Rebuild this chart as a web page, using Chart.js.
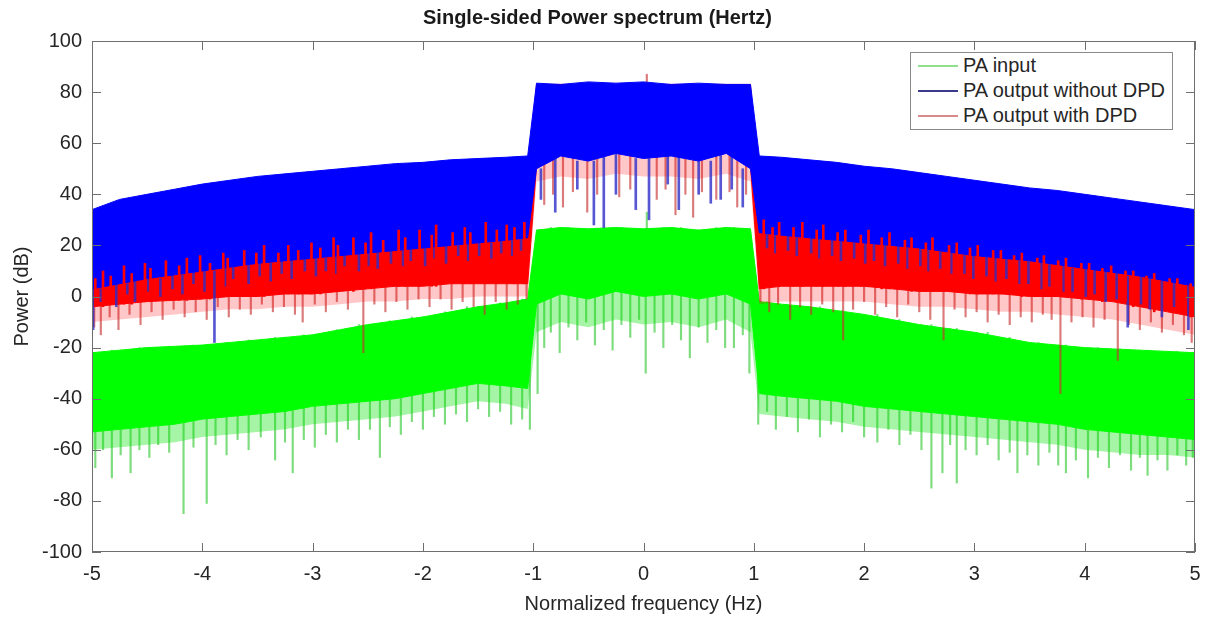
<!DOCTYPE html>
<html>
<head>
<meta charset="utf-8">
<script src="https://cdn.jsdelivr.net/npm/chart.js@4.4.1/dist/chart.umd.min.js"></script>
<style>
  html, body { margin: 0; padding: 0; background: #fff; }
  #wrap { position: relative; width: 1207px; height: 622px; }
  #legendBox {
    position: absolute; left: 910px; top: 52px; width: 261px; height: 76px;
    border: 1px solid #8a8a8a; background: #fff;
    font: 20px "Liberation Sans", Arial, sans-serif; color: #262626;
  }
  .row { position: relative; height: 25px; line-height: 25px; padding-left: 52px; white-space: nowrap; }
  .row span.swatch { position: absolute; left: 7px; top: 12px; width: 40px; height: 2px; }
</style>
</head>
<body>
<div id="wrap">
  <canvas id="spectrum"></canvas>
  <div id="legendBox"></div>
</div>
<script>
// normalized frequency grid used by all envelopes
const freq = [-5, -4.75, -4.5, -4.25, -4, -3.75, -3.5, -3.25, -3, -2.75, -2.5, -2.25, -2, -1.75, -1.5, -1.25, -1.05,
  -0.97, -0.75, -0.5, -0.25, 0, 0.25, 0.5, 0.75, 0.97,
  1.05, 1.25, 1.5, 1.75, 2, 2.25, 2.5, 2.75, 3, 3.25, 3.5, 3.75, 4, 4.25, 4.5, 4.75, 5];

// PA output without DPD (blue): upper / lower edge of the dense trace
const noDpdTop = [34, 38, 40, 42, 44, 45.5, 47, 48, 49, 50, 51, 52, 52.5, 53.5, 54, 54.5, 55,
  83.5, 83, 84, 83.5, 84, 83, 83.5, 83, 83,
  55, 54.5, 53.5, 52.5, 51, 50, 48.5, 47, 45.5, 44, 42.5, 41.5, 40, 38.5, 37, 35.5, 34];
const noDpdBottom = [3, 5, 7, 8.5, 10, 11.5, 13, 14, 15, 16, 17, 18, 19, 20, 21, 22, 23,
  50, 55, 53, 56, 54, 55, 53, 56, 50,
  25, 24, 23, 22, 21, 20, 19, 17.5, 16, 15, 14, 12.5, 11, 9.5, 8, 6, 4];

// PA output with DPD (red): dense part, then the thinner fuzzy part below it
const dpdTop = [9, 11, 12.5, 13.5, 15, 16, 17, 18, 19, 20, 21, 22, 23, 24, 25, 26, 27,
  83, 83, 83, 83, 83, 83, 83, 83, 83,
  28, 27, 26, 25, 24, 23, 22, 21, 20, 18.5, 17, 15.5, 14, 12, 10.5, 9, 7];
const dpdBottom = [-4, -3, -2, -1.5, -1, 0, 0, 1, 1, 2, 3, 4, 4, 5, 5, 5, 5,
  51, 56, 54, 57, 55, 56, 54, 57, 51,
  3, 4, 4, 4, 4, 3, 2, 2, 1, 1, 0, 0, -1, -2, -4, -6, -8];
const dpdFuzz = [-10, -9, -8, -7, -6, -5, -5, -4, -4, -3, -2, -2, -1, -1, 0, 0, 0,
  45, 47, 46, 48, 47, 47, 46, 48, 45,
  -3, -2, -2, -2, -2, -3, -4, -4, -5, -6, -6, -7, -8, -9, -11, -13, -15];

// PA input (green)
const inputTop = [-22, -21, -20, -19.5, -19, -18, -17, -16, -15, -13, -11, -9.5, -8, -6, -4, -2.5, -1,
  26, 27, 26.5, 27, 26.5, 27, 26, 27, 26.5,
  -2, -3, -4, -5.5, -7, -9, -11, -12.5, -14, -16, -18, -19, -20, -20.5, -21, -21.5, -22];
const inputBottom = [-53, -52, -51, -50, -48, -47, -46, -45, -43, -42, -41, -40, -38, -36, -34, -35, -36,
  -3, 1, -1, 2, 0, 1, -1, 1, -3,
  -38, -39, -40, -41, -43, -44, -45, -46, -47, -48, -49, -50, -52, -53, -54, -55, -56];
const inputFuzz = [-60, -59, -58, -57, -55, -54, -53, -52, -50, -49, -48, -47, -45, -43, -41, -42, -44,
  -14, -10, -12, -9, -11, -10, -12, -9, -14,
  -46, -47, -48, -49, -51, -52, -53, -54, -55, -56, -57, -58, -60, -61, -62, -62, -63];

// single spikes sticking out of the dense traces: [frequency, dB]
const inputSpikes = [[-4.97, -67], [-4.9, -60], [-4.82, -71], [-4.74, -62], [-4.65, -69], [-4.57, -60], [-4.48, -63],
  [-4.4, -58], [-4.3, -61], [-4.17, -85], [-4.08, -59], [-3.96, -81], [-3.88, -58], [-3.78, -62], [-3.68, -56],
  [-3.58, -60], [-3.47, -55], [-3.34, -64], [-3.25, -57], [-3.18, -69], [-3.08, -56], [-2.98, -59], [-2.88, -54],
  [-2.78, -57], [-2.68, -52], [-2.58, -56], [-2.48, -52], [-2.39, -63], [-2.3, -51], [-2.2, -54], [-2.1, -49],
  [-2.0, -52], [-1.9, -47], [-1.8, -50], [-1.7, -46], [-1.6, -49], [-1.5, -44], [-1.4, -47], [-1.3, -45],
  [-1.2, -50], [-1.1, -48], [-1.03, -52],
  [-0.96, -38], [-0.9, -20], [-0.84, -14], [-0.76, -22], [-0.68, -12], [-0.6, -17], [-0.52, -10], [-0.44, -19],
  [-0.36, -13], [-0.28, -21], [-0.2, -11], [-0.12, -16], [-0.04, -9], [0.02, -30], [0.03, 33], [0.1, -14], [0.18, -20],
  [0.26, -11], [0.34, -17], [0.42, -24], [0.5, -12], [0.58, -18], [0.66, -13], [0.74, -20], [0.82, -20],
  [0.9, -15], [0.96, -30],
  [1.04, -50], [1.12, -45], [1.2, -52], [1.3, -47], [1.4, -53], [1.5, -48], [1.6, -55], [1.7, -50], [1.8, -53],
  [1.9, -49], [2.0, -55], [2.12, -57], [2.22, -52], [2.32, -58], [2.42, -54], [2.52, -60], [2.61, -75],
  [2.71, -69], [2.78, -58], [2.84, -73], [2.92, -60], [3.02, -62], [3.12, -58], [3.22, -64], [3.32, -61],
  [3.39, -69], [3.48, -62], [3.58, -66], [3.68, -61], [3.76, -66], [3.83, -69], [3.92, -64], [4.03, -71],
  [4.12, -63], [4.22, -67], [4.32, -62], [4.42, -68], [4.5, -63], [4.57, -70], [4.66, -64], [4.75, -68],
  [4.84, -62], [4.92, -66], [4.98, -63]];

const dpdSpikes = [[-4.98, -12], [-4.92, -15], [-4.84, -8], [-4.76, -13], [-4.66, -7], [-4.56, -11], [-4.46, -6],
  [-4.36, -9], [-4.26, -5], [-4.16, -8], [-4.06, -6], [-3.96, -9], [-3.86, -4], [-3.76, -8], [-3.66, -5],
  [-3.56, -7], [-3.46, -3], [-3.36, -6], [-3.26, -4], [-3.16, -7], [-3.09, -10], [-2.98, -3], [-2.88, -6],
  [-2.78, -2], [-2.68, -5], [-2.54, -22], [-2.44, -3], [-2.34, -6], [-2.24, -2], [-2.14, -5], [-2.04, -1],
  [-1.94, -4], [-1.84, -1], [-1.74, -5], [-1.64, -2], [-1.54, -4], [-1.44, -7], [-1.34, -2], [-1.24, -5],
  [-1.14, -3], [-1.06, -1],
  [-0.9, 36], [-0.82, 40], [-0.73, 35], [-0.64, 41], [-0.51, 33], [-0.42, 40], [-0.22, 39], [-0.12, 42],
  [0.03, 87], [0.12, 38], [0.2, 42], [0.29, 32], [0.38, 40], [0.45, 31], [0.53, 41], [0.66, 38], [0.78, 41],
  [0.85, 35], [0.93, 40],
  [1.06, -2], [1.14, -6], [1.22, -3], [1.33, -9], [1.42, -4], [1.52, -7], [1.62, -3], [1.72, -6], [1.81, -17],
  [1.9, -5], [2.0, -2], [2.1, -7], [2.2, -4], [2.3, -8], [2.4, -3], [2.5, -6], [2.6, -9], [2.72, -17],
  [2.82, -5], [2.92, -8], [3.02, -6], [3.12, -10], [3.22, -7], [3.32, -11], [3.42, -8], [3.52, -10],
  [3.62, -7], [3.7, -9], [3.78, -38], [3.88, -10], [3.98, -8], [4.08, -12], [4.18, -9], [4.3, -25],
  [4.4, -11], [4.5, -13], [4.6, -10], [4.7, -14], [4.8, -11], [4.9, -15], [4.97, -18]];

// red peaks that poke up into the blue trace
const dpdPeaks = [[-4.97, 7], [-4.9, 10], [-4.83, 8], [-4.71, 12], [-4.64, 9], [-4.52, 13], [-4.47, 11], [-4.33, 14],
  [-4.21, 12], [-4.14, 15], [-4.02, 16], [-3.93, 13], [-3.81, 17], [-3.77, 15], [-3.62, 18], [-3.51, 17],
  [-3.44, 20], [-3.31, 17], [-3.22, 20], [-3.13, 18], [-3.01, 21], [-2.93, 19], [-2.81, 23], [-2.77, 20],
  [-2.63, 23], [-2.52, 21], [-2.47, 25], [-2.36, 22], [-2.22, 26], [-2.16, 23], [-2.03, 26], [-1.92, 24],
  [-1.88, 28], [-1.73, 25], [-1.62, 27], [-1.57, 25], [-1.43, 29], [-1.33, 26], [-1.24, 28], [-1.17, 27],
  [-1.08, 29],
  [1.09, 30], [1.17, 27], [1.23, 29], [1.36, 27], [1.44, 29], [1.57, 26], [1.63, 28], [1.76, 25], [1.83, 26],
  [1.97, 24], [2.04, 26], [2.16, 23], [2.23, 25], [2.37, 22], [2.43, 23], [2.56, 21], [2.62, 23], [2.77, 20],
  [2.84, 21], [2.96, 19], [3.03, 20], [3.17, 18], [3.24, 18], [3.36, 16], [3.43, 17], [3.57, 15], [3.63, 16],
  [3.76, 14], [3.83, 15], [3.97, 13], [4.04, 13], [4.16, 11], [4.24, 12], [4.37, 10], [4.44, 10], [4.56, 8],
  [4.63, 9], [4.77, 7], [4.84, 7], [4.96, 5]];

const noDpdSpikes = [[-4.99, -13], [-4.92, -2], [-4.78, -4], [-4.68, 1], [-4.61, -2], [-4.49, 2], [-4.38, 0],
  [-4.27, 3], [-4.18, 1], [-4.08, 5], [-3.98, 2], [-3.89, -18], [-3.79, 4], [-3.72, 7], [-3.58, 5], [-3.48, 8],
  [-3.38, 6], [-3.28, 9], [-3.19, 7], [-3.07, 10], [-2.97, 8], [-2.88, 10], [-2.79, 9], [-2.71, 12], [-2.58, 10],
  [-2.49, 12], [-2.41, 11], [-2.29, 13], [-2.18, 12], [-2.11, 14], [-1.98, 12], [-1.9, 15], [-1.79, 13],
  [-1.68, 16], [-1.59, 14], [-1.49, 16], [-1.38, 15], [-1.29, 17], [-1.19, 16], [-1.11, 18],
  [-0.93, 38], [-0.8, 33], [-0.6, 42], [-0.45, 28], [-0.36, 27], [-0.25, 40], [-0.07, 34], [0.05, 30],
  [0.22, 44], [0.32, 34], [0.5, 40], [0.61, 36.5], [0.7, 38], [0.8, 42], [0.9, 35],
  [1.12, 19], [1.19, 17], [1.31, 18], [1.39, 16], [1.52, 17], [1.59, 15], [1.71, 16], [1.79, 14], [1.91, 15],
  [2.01, 13], [2.09, 14], [2.19, 12], [2.31, 13], [2.39, 11], [2.51, 12], [2.58, 10], [2.69, 11], [2.79, 9],
  [2.91, 9], [2.99, 7], [3.11, 8], [3.19, 6], [3.29, 7], [3.41, 5], [3.49, 5], [3.61, 3], [3.68, 4], [3.81, 2],
  [3.89, 2], [4.01, 0], [4.09, 1], [4.19, -2], [4.29, -1], [4.39, -12], [4.51, -3], [4.59, -5], [4.7, -8],
  [4.81, -4], [4.94, -13]];

const seriesNames = ["PA input", "PA output without DPD", "PA output with DPD"];
const seriesColors = ["#00ff00", "#0000ff", "#ff0000"];
const fuzzColors = ["rgba(0,225,0,0.35)", "", "rgba(255,0,0,0.22)"];
const spikeColors = ["rgba(70,205,70,0.7)", "rgba(45,45,200,0.8)", "rgba(200,50,50,0.65)"];
const legendColors = ["#8ee08e", "#3a3a8c", "#d88a8a"];

const xTicks = { min: -5, max: 5, step: 1 };
const yTicks = { min: -100, max: 100, step: 20 };

const FONT = '"Liberation Sans", Arial, sans-serif';

function pts(arr) {
  return freq.map((f, i) => ({ x: f, y: arr[i] }));
}

// spike drawn from the trace edge (nearest grid point) out to its value
function spikeBars(list, anchor) {
  return list.map(([f, v]) => {
    let k = 0;
    freq.forEach((g, i) => { if (Math.abs(g - f) < Math.abs(freq[k] - f)) k = i; });
    return { x: f, y: [Math.min(v, anchor[k]), Math.max(v, anchor[k])] };
  });
}

function band(label, top, bottom, color, fillColor, width, order) {
  return [
    { type: "line", label: label, data: pts(top), borderColor: color, backgroundColor: fillColor,
      borderWidth: width, pointRadius: 0, tension: 0, fill: "+1", order: order },
    { type: "line", label: label + " low", data: pts(bottom), borderColor: color,
      borderWidth: width, pointRadius: 0, tension: 0, fill: false, order: order }
  ];
}

function spikes(list, anchor, color, thick, order) {
  return { type: "bar", data: spikeBars(list, anchor), backgroundColor: color, borderWidth: 0,
    barThickness: thick, grouped: false, order: order };
}

// box around the plot with inward ticks, like matlab
const boxFrame = {
  id: "boxFrame",
  afterDraw(chart) {
    const { ctx, chartArea: a, scales } = chart;
    ctx.save();
    ctx.strokeStyle = "#6f6f6f";
    ctx.lineWidth = 1;
    ctx.strokeRect(Math.round(a.left) + 0.5, Math.round(a.top) + 0.5, Math.round(a.width) - 1, Math.round(a.height) - 1);
    ctx.beginPath();
    scales.x.ticks.forEach(t => {
      const px = Math.round(scales.x.getPixelForValue(t.value)) + 0.5;
      ctx.moveTo(px, a.bottom); ctx.lineTo(px, a.bottom - 9);
      ctx.moveTo(px, a.top); ctx.lineTo(px, a.top + 9);
    });
    scales.y.ticks.forEach(t => {
      const py = Math.round(scales.y.getPixelForValue(t.value)) + 0.5;
      ctx.moveTo(a.left, py); ctx.lineTo(a.left + 9, py);
      ctx.moveTo(a.right, py); ctx.lineTo(a.right - 9, py);
    });
    ctx.stroke();
    ctx.restore();
  }
};

let chart = new Chart(document.getElementById("spectrum"), {
  type: "line",
  data: {
    datasets: [
      spikes(dpdPeaks, dpdBottom, seriesColors[2], 2, 0.5),
      ...band(seriesNames[1], noDpdTop, noDpdBottom, seriesColors[1], seriesColors[1], 1, 1),
      spikes(noDpdSpikes, noDpdBottom, spikeColors[1], 2, 1.5),
      ...band(seriesNames[2], dpdTop, dpdBottom, seriesColors[2], seriesColors[2], 1, 2),
      ...band("dpd fuzz", dpdBottom, dpdFuzz, "rgba(0,0,0,0)", fuzzColors[2], 0, 2.2),
      spikes(dpdSpikes, dpdTop, spikeColors[2], 1.5, 2.5),
      ...band(seriesNames[0], inputTop, inputBottom, seriesColors[0], seriesColors[0], 1, 3),
      ...band("input fuzz", inputBottom, inputFuzz, "rgba(0,0,0,0)", fuzzColors[0], 0, 3.2),
      spikes(inputSpikes, inputTop, spikeColors[0], 1.5, 3.5)
    ]
  },
  options: {
    responsive: true,
    maintainAspectRatio: false,
    animation: false,
    layout: { padding: { left: 0, right: 12, top: 0, bottom: 0 } },
    plugins: {
      legend: { display: false },
      tooltip: { enabled: false },
      title: {
        display: true,
        text: "Single-sided Power spectrum (Hertz)",
        color: "#1a1a1a",
        font: { family: FONT, size: 20, weight: "bold" },
        padding: { top: 6, bottom: 11 }
      }
    },
    scales: {
      x: {
        type: "linear", min: xTicks.min, max: xTicks.max, offset: false,
        grid: { display: false, drawTicks: false },
        border: { display: false },
        ticks: { stepSize: xTicks.step, color: "#262626", padding: 10, font: { family: FONT, size: 20 } },
        title: { display: true, text: "Normalized frequency (Hz)", color: "#262626",
          font: { family: FONT, size: 20 }, padding: { top: 0, bottom: 6 } },
        afterFit: s => { s.height = 70; s.paddingLeft = 0; s.paddingRight = 0; }
      },
      y: {
        type: "linear", min: yTicks.min, max: yTicks.max,
        grid: { display: false, drawTicks: false },
        border: { display: false },
        ticks: { stepSize: yTicks.step, color: "#262626", padding: 10, font: { family: FONT, size: 20 } },
        title: { display: true, text: "Power (dB)", color: "#262626",
          font: { family: FONT, size: 20 }, padding: { top: 10, bottom: 0 } },
        afterFit: s => { s.width = 92; }
      }
    }
  },
  plugins: [boxFrame]
});

// legend box in the top right corner
let box = document.getElementById("legendBox");
[0, 1, 2].forEach(i => {
  let row = document.createElement("div");
  row.className = "row";
  row.innerHTML = `<span class="swatch" style="background:${legendColors[i]}"></span>${seriesNames[i]}`;
  box.appendChild(row);
});
</script>
</body>
</html>
